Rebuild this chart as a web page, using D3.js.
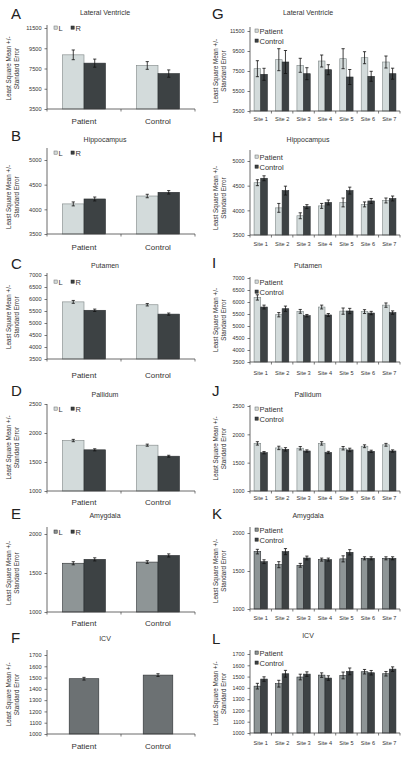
<!DOCTYPE html>
<html><head><meta charset="utf-8">
<script src="https://cdn.jsdelivr.net/npm/d3@7/dist/d3.min.js"></script>
<style>
body{margin:0;background:#fff}
svg{display:block}
text{font-family:"Liberation Sans",Arial,sans-serif;fill:#333}
</style>
</head><body><svg id="c" width="407" height="757"></svg>
<script>
// ---------- DATA ----------
const groups = ["Patient", "Control"];
const sides = ["L", "R"];
const sites = ["Site 1", "Site 2", "Site 3", "Site 4", "Site 5", "Site 6", "Site 7"];
const siteSeries = ["Patient", "Control"];

// tick labels
const lvTicks = [3500, 5500, 7500, 9500, 11500];
const hipTicks = [3500, 4000, 4500, 5000];
const putTicks = [3500, 4000, 4500, 5000, 5500, 6000, 6500, 7000];
const palTicks = [1000, 1500, 2000, 2500];
const amyTicks = [1000, 1500, 2000];
const icvTicks = [1000, 1100, 1200, 1300, 1400, 1500, 1600, 1700];

// A Lateral Ventricle (L/R by group)
const lvL = [8850, 7800], lvLErr = [480, 380];
const lvR = [8030, 7000], lvRErr = [400, 360];
// B Hippocampus
const hipL = [4110, 4270], hipLErr = [40, 35];
const hipR = [4210, 4345], hipRErr = [40, 35];
// C Putamen
const putL = [5880, 5760], putLErr = [60, 50];
const putR = [5530, 5370], putRErr = [50, 45];
// D Pallidum
const palL = [1870, 1790], palLErr = [20, 18];
const palR = [1710, 1600], palRErr = [18, 16];
// E Amygdala
const amyL = [1625, 1640], amyLErr = [20, 18];
const amyR = [1675, 1725], amyRErr = [20, 20];
// F ICV
const icvAll = [1490, 1522], icvAllErr = [12, 12];

// G Lateral Ventricle by site
const lvSiteP = [7730, 8630, 8070, 8500, 8730, 8830, 8400];
const lvSitePErr = [800, 1100, 700, 600, 1000, 600, 600];
const lvSiteC = [7170, 8400, 7230, 7630, 6900, 6970, 7230];
const lvSiteCErr = [600, 1150, 600, 500, 750, 500, 550];
// H Hippocampus by site
const hipSiteP = [4560, 4050, 3890, 4090, 4160, 4120, 4200];
const hipSitePErr = [60, 90, 60, 50, 90, 50, 50];
const hipSiteC = [4650, 4400, 4075, 4160, 4400, 4190, 4240];
const hipSiteCErr = [50, 90, 40, 50, 70, 50, 50];
// I Putamen by site
const putSiteP = [6190, 5470, 5610, 5790, 5620, 5600, 5870];
const putSitePErr = [110, 90, 80, 80, 130, 80, 90];
const putSiteC = [5790, 5720, 5430, 5460, 5625, 5540, 5560];
const putSiteCErr = [80, 110, 50, 60, 110, 70, 70];
// J Pallidum by site
const palSiteP = [1840, 1760, 1755, 1840, 1755, 1790, 1815];
const palSitePErr = [30, 30, 30, 30, 30, 25, 25];
const palSiteC = [1676, 1735, 1706, 1680, 1725, 1700, 1706];
const palSiteCErr = [20, 30, 20, 20, 30, 20, 20];
// K Amygdala by site
const amySiteP = [1755, 1583, 1575, 1650, 1660, 1667, 1667];
const amySitePErr = [30, 40, 25, 20, 40, 20, 20];
const amySiteC = [1623, 1755, 1671, 1650, 1746, 1667, 1667];
const amySiteCErr = [25, 40, 25, 20, 35, 20, 20];
// L ICV by site
const icvSiteP = [1415, 1437, 1496, 1513, 1510, 1543, 1525];
const icvSitePErr = [25, 30, 25, 20, 30, 20, 20];
const icvSiteC = [1478, 1525, 1522, 1487, 1546, 1534, 1566];
const icvSiteCErr = [20, 30, 20, 20, 30, 20, 20];

// ---------- STYLE / LAYOUT ----------
const LIGHT = "#d3dbdb", MID = "#8e9596", DARK = "#3d4244", SINGLE = "#6c7173";
const cols = [{x0: 47, x1: 195, letterX: 11, titleX: 105, ylabX: 13, legX: 54},
              {x0: 250, x1: 400, letterX: 212, titleX: 308, ylabX: 220, legX: 255}];

const panels = [
  {letter: "A", title: "Lateral Ventricle", col: 0, top: 28, bottom: 109, axTop: 25, ticks: lvTicks, cats: groups,
   series: [{name: sides[0], v: lvL, e: lvLErr, fill: LIGHT}, {name: sides[1], v: lvR, e: lvRErr, fill: DARK}],
   letterY: 19, titleY: 14.5, catY: 124, legY: 28, legType: "lr"},
  {letter: "B", title: "Hippocampus", col: 0, top: 160, bottom: 234, axTop: 148, ticks: hipTicks, cats: groups,
   series: [{name: sides[0], v: hipL, e: hipLErr, fill: LIGHT}, {name: sides[1], v: hipR, e: hipRErr, fill: DARK}],
   letterY: 141, titleY: 141.5, catY: 250, legY: 153, legType: "lr"},
  {letter: "C", title: "Putamen", col: 0, top: 275, bottom: 359, axTop: 273, ticks: putTicks, cats: groups,
   series: [{name: sides[0], v: putL, e: putLErr, fill: LIGHT}, {name: sides[1], v: putR, e: putRErr, fill: DARK}],
   letterY: 269, titleY: 267.5, catY: 378, legY: 282, legType: "lr"},
  {letter: "D", title: "Pallidum", col: 0, top: 404, bottom: 491, axTop: 404, ticks: palTicks, cats: groups,
   series: [{name: sides[0], v: palL, e: palLErr, fill: LIGHT}, {name: sides[1], v: palR, e: palRErr, fill: DARK}],
   letterY: 396, titleY: 396.5, catY: 505, legY: 409, legType: "lr"},
  {letter: "E", title: "Amygdala", col: 0, top: 534, bottom: 612, axTop: 527, ticks: amyTicks, cats: groups,
   series: [{name: sides[0], v: amyL, e: amyLErr, fill: MID}, {name: sides[1], v: amyR, e: amyRErr, fill: DARK}],
   letterY: 519, titleY: 517.5, catY: 626, legY: 532, legType: "lr"},
  {letter: "F", title: "ICV", col: 0, top: 655, bottom: 734, axTop: 650, ticks: icvTicks, cats: groups,
   series: [{name: "all", v: icvAll, e: icvAllErr, fill: SINGLE}],
   letterY: 643, titleY: 640.5, catY: 749, legY: null, single: true},

  {letter: "G", title: "Lateral Ventricle", col: 1, top: 31, bottom: 111, axTop: 27, ticks: lvTicks, cats: sites,
   series: [{name: siteSeries[0], v: lvSiteP, e: lvSitePErr, fill: LIGHT}, {name: siteSeries[1], v: lvSiteC, e: lvSiteCErr, fill: DARK}],
   letterY: 19, titleY: 14.5, catY: 120.5, legY: 31, legType: "pc"},
  {letter: "H", title: "Hippocampus", col: 1, top: 161, bottom: 235, axTop: 150, ticks: hipTicks, cats: sites,
   series: [{name: siteSeries[0], v: hipSiteP, e: hipSitePErr, fill: LIGHT}, {name: siteSeries[1], v: hipSiteC, e: hipSiteCErr, fill: DARK}],
   letterY: 142, titleY: 141.5, catY: 245.5, legY: 157, legType: "pc"},
  {letter: "I", title: "Putamen", col: 1, top: 278, bottom: 362, axTop: 277, ticks: putTicks, cats: sites,
   series: [{name: siteSeries[0], v: putSiteP, e: putSitePErr, fill: LIGHT}, {name: siteSeries[1], v: putSiteC, e: putSiteCErr, fill: DARK}],
   letterY: 268, titleY: 267.5, catY: 374.5, legY: 282, legType: "pc"},
  {letter: "J", title: "Pallidum", col: 1, top: 406, bottom: 491, axTop: 405, ticks: palTicks, cats: sites,
   series: [{name: siteSeries[0], v: palSiteP, e: palSitePErr, fill: LIGHT}, {name: siteSeries[1], v: palSiteC, e: palSiteCErr, fill: DARK}],
   letterY: 396, titleY: 396.5, catY: 499.5, legY: 409, legType: "pc"},
  {letter: "K", title: "Amygdala", col: 1, top: 533, bottom: 609, axTop: 527, ticks: amyTicks, cats: sites,
   series: [{name: siteSeries[0], v: amySiteP, e: amySitePErr, fill: MID}, {name: siteSeries[1], v: amySiteC, e: amySiteCErr, fill: DARK}],
   letterY: 519, titleY: 517.5, catY: 619.5, legY: 530, legType: "pc"},
  {letter: "L", title: "ICV", col: 1, top: 654, bottom: 733, axTop: 650, ticks: icvTicks, cats: sites,
   series: [{name: siteSeries[0], v: icvSiteP, e: icvSitePErr, fill: MID}, {name: siteSeries[1], v: icvSiteC, e: icvSiteCErr, fill: DARK}],
   letterY: 644, titleY: 637.5, catY: 744.5, legY: 653, legType: "pc"}
];

const svg = d3.select("#c");
svg.append("rect").attr("width", 407).attr("height", 757).attr("fill", "#fff");

panels.forEach(p => {
  const c = cols[p.col];
  const g = svg.append("g");
  const y = d3.scaleLinear().domain([p.ticks[0], p.ticks[p.ticks.length - 1]]).range([p.bottom, p.top]);
  const x = d3.scaleBand().domain(p.cats).range([c.x0, c.x1]).padding(0);
  const frac = p.single ? [0.3, 0.7] : (p.col === 0 ? [0.21, 0.79] : [0.19, 0.81]);
  const xs = d3.scaleBand().domain(p.series.map(s => s.name))
    .range([x.bandwidth() * frac[0], x.bandwidth() * frac[1]]).padding(0);

  // panel letter
  g.append("text").attr("x", c.letterX).attr("y", p.letterY).text(p.letter)
    .style("font-size", "15px").style("fill", "#222");
  // title
  g.append("text").attr("x", c.titleX).attr("y", p.titleY).attr("text-anchor", "middle")
    .text(p.title).style("font-size", "7px");
  // y label
  const yc = (p.top + p.bottom) / 2;
  const yl = g.append("text").attr("transform", `translate(${c.ylabX},${yc}) rotate(-90)`)
    .attr("text-anchor", "middle").style("font-size", "6.3px");
  yl.append("tspan").attr("x", 0).attr("dy", "-0.25em").text("Least Square Mean +/-");
  yl.append("tspan").attr("x", 0).attr("dy", "1.15em").text("Standard Error");

  // bars
  p.series.forEach(s => {
    p.cats.forEach((cat, i) => {
      const bx = x(cat) + xs(s.name);
      const bw = xs.bandwidth();
      const v = s.v[i], e = s.e[i];
      g.append("rect").attr("x", bx).attr("y", y(v)).attr("width", bw).attr("height", p.bottom - y(v))
        .attr("fill", s.fill).attr("stroke", s.fill === LIGHT ? "#7d8585" : "#2a2e30").attr("stroke-width", 0.6);
      const cx = bx + bw / 2;
      const cap = Math.min(1.6, bw / 4);
      g.append("path")
        .attr("d", `M${cx},${y(v + e)}V${y(v - e)}M${cx - cap},${y(v + e)}H${cx + cap}M${cx - cap},${y(v - e)}H${cx + cap}`)
        .attr("stroke", "#111").attr("stroke-width", 0.8).attr("fill", "none");
    });
  });

  // y axis
  const ya = d3.axisLeft(y).tickValues(p.ticks).tickSize(2.5).tickFormat(d3.format("d"));
  const yg = g.append("g").attr("transform", `translate(${c.x0},0)`).call(ya);
  yg.select(".domain").remove();
  yg.selectAll("line").attr("stroke", "#444").attr("stroke-width", 0.7);
  yg.selectAll("text").style("font-size", p.col === 0 ? "5.6px" : "5.4px").style("font-family", '"Liberation Sans",Arial,sans-serif').attr("fill", "#333");
  g.append("line").attr("x1", c.x0).attr("x2", c.x0).attr("y1", p.axTop).attr("y2", p.bottom)
    .attr("stroke", "#444").attr("stroke-width", 0.8);

  // x axis
  g.append("line").attr("x1", c.x0).attr("x2", c.x1).attr("y1", p.bottom).attr("y2", p.bottom)
    .attr("stroke", "#444").attr("stroke-width", 0.8);
  const bounds = p.cats.map(cat => x(cat)).concat([c.x1]);
  bounds.forEach(bx => {
    g.append("line").attr("x1", bx).attr("x2", bx).attr("y1", p.bottom).attr("y2", p.bottom + 2.5)
      .attr("stroke", "#444").attr("stroke-width", 0.7);
  });
  p.cats.forEach(cat => {
    g.append("text").attr("x", x(cat) + x.bandwidth() / 2).attr("y", p.catY).attr("text-anchor", "middle")
      .text(cat).style("font-size", p.col === 0 ? "8px" : "5.6px");
  });

  // legend
  if (p.legY !== null && p.legType) {
    if (p.legType === "lr") {
      p.series.forEach((s, k) => {
        const lx = c.legX + k * 17;
        g.append("rect").attr("x", lx).attr("y", p.legY - 2).attr("width", 3.2).attr("height", 3.2)
          .attr("fill", s.fill).attr("stroke", s.fill === LIGHT ? "#666" : "#222").attr("stroke-width", 0.5);
        g.append("text").attr("x", lx + 4.5).attr("y", p.legY + 2.6).text(s.name).style("font-size", "7.5px");
      });
    } else {
      p.series.forEach((s, k) => {
        const ly = p.legY + k * 10;
        g.append("rect").attr("x", c.legX).attr("y", ly - 2).attr("width", 3.2).attr("height", 3.2)
          .attr("fill", s.fill).attr("stroke", s.fill === LIGHT ? "#666" : "#222").attr("stroke-width", 0.5);
        g.append("text").attr("x", c.legX + 4.5).attr("y", ly + 2.6).text(s.name).style("font-size", "7.5px");
      });
    }
  }
});
</script>
</body></html>
